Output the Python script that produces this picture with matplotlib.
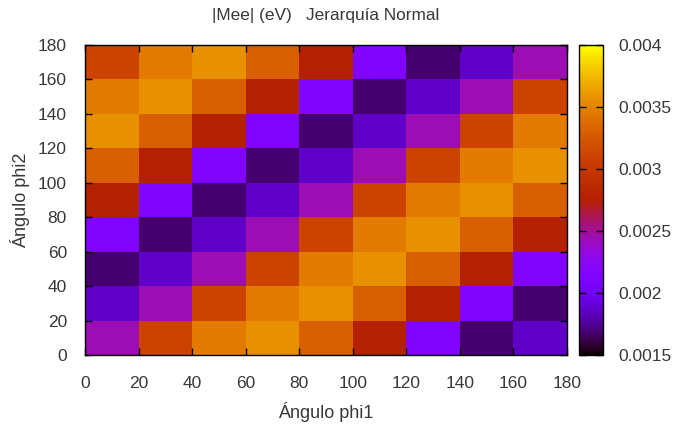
import numpy as np
import matplotlib
matplotlib.use("Agg")
import matplotlib.pyplot as plt
from matplotlib.colors import ListedColormap

# |Mee| values in eV on a 9x9 grid of (phi1, phi2) cells, 20 degrees each.
phi1_edges = [0, 20, 40, 60, 80, 100, 120, 140, 160, 180]
phi2_edges = [0, 20, 40, 60, 80, 100, 120, 140, 160, 180]

# rows: phi2 from 0-20 (bottom) to 160-180 (top); columns: phi1 from 0-20 to 160-180
mee_rows = [
    [0.00244, 0.00310, 0.00346, 0.00357, 0.00330, 0.00275, 0.00213, 0.00168, 0.00186],
    [0.00186, 0.00244, 0.00310, 0.00346, 0.00357, 0.00330, 0.00275, 0.00213, 0.00168],
    [0.00168, 0.00186, 0.00244, 0.00310, 0.00346, 0.00357, 0.00330, 0.00275, 0.00213],
    [0.00213, 0.00168, 0.00186, 0.00244, 0.00310, 0.00346, 0.00357, 0.00330, 0.00275],
    [0.00275, 0.00213, 0.00168, 0.00186, 0.00244, 0.00310, 0.00346, 0.00357, 0.00330],
    [0.00330, 0.00275, 0.00213, 0.00168, 0.00186, 0.00244, 0.00310, 0.00346, 0.00357],
    [0.00357, 0.00330, 0.00275, 0.00213, 0.00168, 0.00186, 0.00244, 0.00310, 0.00346],
    [0.00346, 0.00357, 0.00330, 0.00275, 0.00213, 0.00168, 0.00186, 0.00244, 0.00310],
    [0.00310, 0.00346, 0.00357, 0.00330, 0.00275, 0.00213, 0.00168, 0.00186, 0.00244],
]

x_ticks = [0, 20, 40, 60, 80, 100, 120, 140, 160, 180]
y_ticks = [0, 20, 40, 60, 80, 100, 120, 140, 160, 180]
cb_ticks = [0.0015, 0.002, 0.0025, 0.003, 0.0035, 0.004]
cb_labels = ["0.0015", "0.002", "0.0025", "0.003", "0.0035", "0.004"]
vmin, vmax = 0.0015, 0.004

# Classic pm3d palette (rgbformulae 7,5,15): sqrt(x), x^3, sin(2*pi*x)
t = np.linspace(0, 1, 512)
rgb = np.stack([np.sqrt(t), t ** 3, np.clip(np.sin(2 * np.pi * t), 0, 1)], axis=1)
pm3d = ListedColormap(rgb)

plt.rcParams["font.family"] = ["Liberation Sans", "DejaVu Sans"]
plt.rcParams["font.size"] = 12.5
text_color = "#383838"

fig = plt.figure(figsize=(6.76, 4.29), dpi=100)
ax = fig.add_axes([85 / 676, 1 - 355 / 429, (567 - 85) / 676, (355 - 45) / 429])
cax = fig.add_axes([579 / 676, 1 - 355 / 429, (603 - 579) / 676, (355 - 45) / 429])

mesh = ax.pcolormesh(phi1_edges, phi2_edges, np.array(mee_rows),
                     cmap=pm3d, vmin=vmin, vmax=vmax, shading="flat")
ax.set_xlim(0, 180)
ax.set_ylim(0, 180)
ax.set_xticks(x_ticks)
ax.set_yticks(y_ticks)
ax.tick_params(direction="in", top=True, right=True, length=5, width=1,
               colors="black", labelcolor=text_color, labelsize=12.5)
ax.tick_params(axis="x", pad=15)
ax.tick_params(axis="y", pad=13)
for s in ax.spines.values():
    s.set_linewidth(1.0)

ax.set_xlabel("Ángulo phi1", color=text_color, labelpad=8, fontsize=13)
ax.set_ylabel("Ángulo phi2", color=text_color, labelpad=6, fontsize=13)
ax.set_title("|Mee| (eV)   Jerarquía Normal", color=text_color, pad=18,
             fontsize=12.4)

cb = fig.colorbar(mesh, cax=cax)
cb.set_ticks(cb_ticks)
cb.set_ticklabels(cb_labels)
cax.tick_params(direction="in", length=5, width=1, left=True, right=True,
                labelcolor=text_color, labelsize=12.5, pad=11)
cb.outline.set_linewidth(1.0)

fig.savefig("out.png", dpi=100)
